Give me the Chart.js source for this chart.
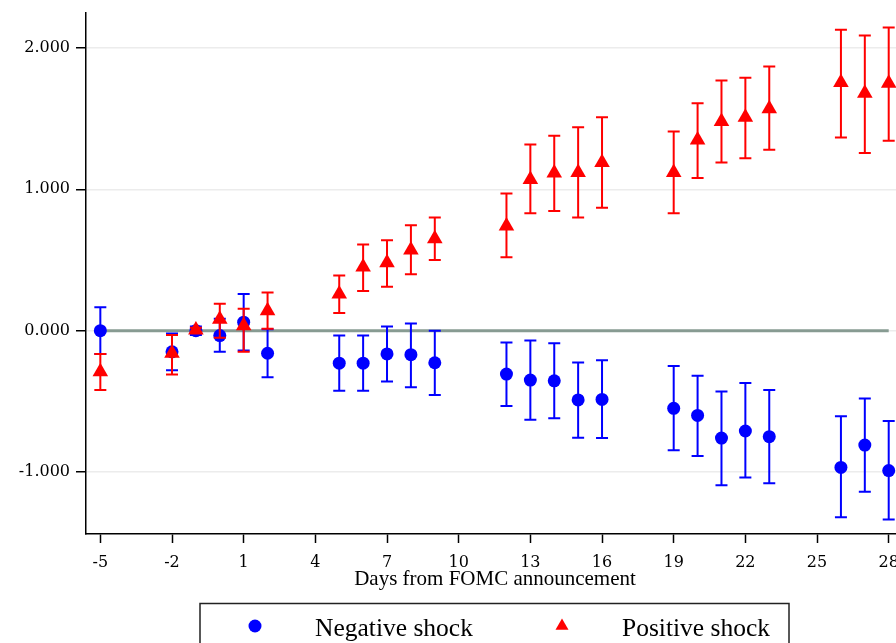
<!DOCTYPE html>
<html>
<head>
<meta charset="utf-8">
<script src="https://cdn.jsdelivr.net/npm/chart.js@4.4.0/dist/chart.umd.min.js"></script>
<style>
  html, body { margin: 0; padding: 0; overflow: hidden; background: #fff; }
  canvas { display: block; }
</style>
</head>
<body>
<canvas id="chart" width="920" height="670"></canvas>
<script>
const days = [-5, -2, -1, 0, 1, 2, 5, 6, 7, 8, 9, 12, 13, 14, 15, 16, 19, 20, 21, 22, 23, 26, 27, 28];

const negMean = [0.00, -0.15, 0.00, -0.035, 0.06, -0.16, -0.23, -0.23, -0.165, -0.17, -0.227, -0.307,
  -0.35, -0.355, -0.49, -0.487, -0.55, -0.60, -0.76, -0.71, -0.75, -0.968, -0.81, -0.99];
const negLo = [-0.165, -0.28, -0.03, -0.15, -0.14, -0.33, -0.425, -0.425, -0.36, -0.40, -0.456, -0.534,
  -0.63, -0.62, -0.757, -0.76, -0.846, -0.887, -1.094, -1.04, -1.08, -1.32, -1.14, -1.336];
const negHi = [0.165, -0.02, 0.03, 0.085, 0.26, 0.01, -0.035, -0.035, 0.03, 0.05, 0.0, -0.083,
  -0.07, -0.09, -0.225, -0.21, -0.25, -0.32, -0.43, -0.37, -0.42, -0.605, -0.48, -0.64];

const posMean = [-0.29, -0.16, 0.005, 0.08, 0.035, 0.14, 0.26, 0.45, 0.48, 0.57, 0.65, 0.74,
  1.07, 1.115, 1.12, 1.19, 1.12, 1.35, 1.48, 1.51, 1.57, 1.756, 1.68, 1.75];
const posLo = [-0.42, -0.31, -0.01, -0.05, -0.15, 0.014, 0.125, 0.28, 0.31, 0.40, 0.50, 0.52,
  0.83, 0.846, 0.80, 0.87, 0.83, 1.08, 1.19, 1.22, 1.28, 1.367, 1.257, 1.343];
const posHi = [-0.165, -0.03, 0.02, 0.19, 0.155, 0.27, 0.39, 0.61, 0.64, 0.745, 0.80, 0.97,
  1.317, 1.38, 1.44, 1.51, 1.41, 1.61, 1.77, 1.79, 1.87, 2.13, 2.088, 2.146];

const xTicks = [-5, -2, 1, 4, 7, 10, 13, 16, 19, 22, 25, 28];
const yTicks = [-1, 0, 1, 2];
const zeroSpan = [-5, 28];

const points = ys => days.map((d, i) => ({ x: d, y: ys[i] }));

// whiskers with caps, drawn just before each series so markers sit on top
const errorBars = {
  id: 'errorBars',
  beforeDatasetDraw(chart, args) {
    const ds = chart.data.datasets[args.index];
    if (!ds.lo) return;
    const { ctx, scales: { x, y } } = chart;
    ctx.save();
    ctx.strokeStyle = ds.backgroundColor;
    ctx.lineWidth = 2;
    ds.data.forEach((p, i) => {
      const px = x.getPixelForValue(p.x);
      const top = y.getPixelForValue(ds.hi[i]);
      const bot = y.getPixelForValue(ds.lo[i]);
      ctx.beginPath();
      ctx.moveTo(px, top); ctx.lineTo(px, bot);
      ctx.moveTo(px - 6, top); ctx.lineTo(px + 6, top);
      ctx.moveTo(px - 6, bot); ctx.lineTo(px + 6, bot);
      ctx.stroke();
    });
    ctx.restore();
  }
};

// framed legend under the axis title
const boxLegend = {
  id: 'boxLegend',
  afterDraw(chart) {
    const { ctx } = chart;
    const items = chart.data.datasets.filter(d => d.lo);
    ctx.save();
    ctx.strokeStyle = '#222';
    ctx.lineWidth = 1.5;
    ctx.strokeRect(200, 603.5, 589, 90);
    ctx.font = '25.5px "Liberation Serif"';
    ctx.textBaseline = 'middle';
    items.forEach((d, i) => {
      const mx = 255 + i * 307;
      ctx.fillStyle = d.backgroundColor;
      Chart.helpers.drawPoint(ctx, {
        pointStyle: d.pointStyle,
        radius: d.pointStyle === 'triangle' ? 7.5 : 6.5,
        borderWidth: 0
      }, mx, 626);
      ctx.fillStyle = '#000';
      ctx.fillText(d.label, mx + 60, 629);
    });
    ctx.restore();
  }
};

const tickFont = { family: '"DejaVu Serif"', size: 16 };

new Chart(document.getElementById('chart'), {
  type: 'scatter',
  data: {
    datasets: [
      {
        label: 'Negative shock',
        data: points(negMean), lo: negLo, hi: negHi,
        pointStyle: 'circle', pointRadius: 6.5, borderWidth: 0,
        backgroundColor: '#0000ff', borderColor: '#0000ff',
        order: 2
      },
      {
        label: 'Positive shock',
        data: points(posMean), lo: posLo, hi: posHi,
        pointStyle: 'triangle', pointRadius: 9, borderWidth: 0,
        backgroundColor: '#ff0000', borderColor: '#ff0000',
        order: 1
      },
      {
        label: 'zero',
        data: zeroSpan.map(v => ({ x: v, y: 0 })),
        showLine: true, pointRadius: 0,
        borderColor: '#879b92', borderWidth: 3,
        order: 3
      }
    ]
  },
  options: {
    responsive: false,
    animation: false,
    events: [],
    layout: { padding: { top: 12.7, right: 16, bottom: 0, left: 0 } },
    plugins: { legend: { display: false }, tooltip: { enabled: false } },
    scales: {
      x: {
        type: 'linear', min: -5.6, max: 28.64,
        afterBuildTicks: s => { s.ticks = xTicks.map(v => ({ value: v })); },
        afterFit: s => { s.height = 136; },
        grid: { drawOnChartArea: false, tickLength: 9, tickColor: '#000', tickWidth: 1.5 },
        border: { color: '#000', width: 1.5 },
        ticks: { color: '#000', font: tickFont, padding: 10, maxRotation: 0, autoSkip: false },
        title: {
          display: true, text: 'Days from FOMC announcement', color: '#000',
          font: { family: '"Liberation Serif"', size: 21 },
          padding: { top: 0, bottom: 78 }
        }
      },
      y: {
        min: -1.439, max: 2.25,
        afterBuildTicks: s => { s.ticks = yTicks.map(v => ({ value: v })); },
        afterFit: s => { s.width = 86; s.paddingTop = 0; s.paddingBottom = 0; },
        grid: { color: '#ececec', lineWidth: 1.5, tickLength: 10, tickColor: '#000', tickWidth: 1.5 },
        border: { color: '#000', width: 1.5 },
        ticks: { color: '#000', font: tickFont, padding: 6, callback: v => v.toFixed(3) }
      }
    }
  },
  plugins: [errorBars, boxLegend]
});
</script>
</body>
</html>
